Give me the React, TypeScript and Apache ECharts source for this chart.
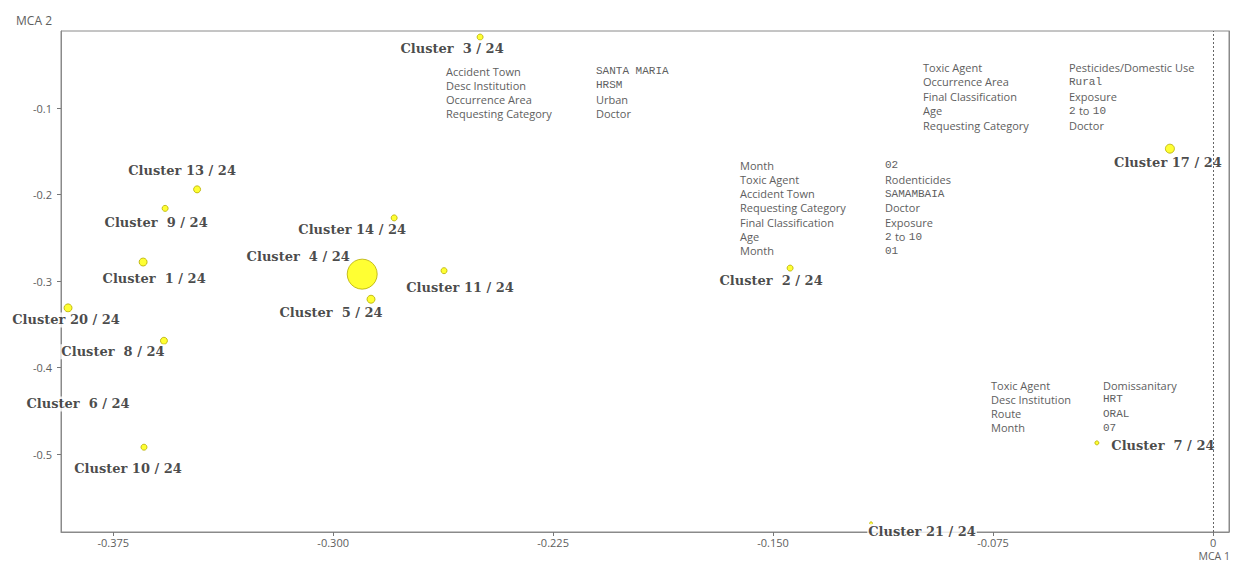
import React, { useEffect, useRef } from "react";
import * as echarts from "echarts";

// ---- data ----
const clusterNames = [
  "Cluster  1 / 24", "Cluster  2 / 24", "Cluster  3 / 24", "Cluster  4 / 24",
  "Cluster  5 / 24", "Cluster  6 / 24", "Cluster  7 / 24", "Cluster  8 / 24",
  "Cluster  9 / 24", "Cluster 10 / 24", "Cluster 11 / 24", "Cluster 13 / 24",
  "Cluster 14 / 24", "Cluster 17 / 24", "Cluster 20 / 24", "Cluster 21 / 24",
];
const mca1 = [
  -0.3648, -0.1442, -0.2499, -0.2901, -0.2871, -0.387, -0.0396, -0.3577,
  -0.3573, -0.3645, -0.2622, -0.3464, -0.2792, -0.0147, -0.3904, -0.1166,
];
const mca2 = [
  -0.278, -0.285, -0.018, -0.292, -0.321, -0.442, -0.487, -0.369,
  -0.216, -0.492, -0.288, -0.194, -0.227, -0.147, -0.331, -0.58,
];
const clusterWeight = [8, 6, 6, 30, 8, 0, 4, 7, 6, 6, 6, 7, 6, 9, 8, 3];

const xTicks = [-0.375, -0.3, -0.225, -0.15, -0.075, 0];
const yTicks = [-0.5, -0.4, -0.3, -0.2, -0.1];

const c3Keys = ["Accident Town", "Desc Institution", "Occurrence Area", "Requesting Category"];
const c3Values = ["SANTA MARIA", "HRSM", "Urban", "Doctor"];
const c2Keys = ["Month", "Toxic Agent", "Accident Town", "Requesting Category", "Final Classification", "Age", "Month"];
const c2Values = ["02", "Rodenticides", "SAMAMBAIA", "Doctor", "Exposure", "2 to 10", "01"];
const c17Keys = ["Toxic Agent", "Occurrence Area", "Final Classification", "Age", "Requesting Category"];
const c17Values = ["Pesticides/Domestic Use", "Rural", "Exposure", "2 to 10", "Doctor"];
const c7Keys = ["Toxic Agent", "Desc Institution", "Route", "Month"];
const c7Values = ["Domissanitary", "HRT", "ORAL", "07"];
const monoValues = ["SANTA MARIA", "HRSM", "SAMAMBAIA", "Rural", "HRT", "ORAL", "02", "01", "07"];

// ---- layout / style ----
const labelOffsets: number[][] = [
  [11, 16], [-19, 12], [-28, 11], [-64, -18], [-40, 13], [0, 0], [66, 3], [-51, 11],
  [-9, 14], [-16, 21], [16, 17], [-15, -19], [-42, 12], [-2, 14], [-2, 12], [51, 8],
];
const blocks = [
  { keys: c3Keys, values: c3Values, keyX: 446, valX: 596, y0: 71, gap: 14 },
  { keys: c2Keys, values: c2Values, keyX: 740, valX: 885, y0: 165, gap: 14.33 },
  { keys: c17Keys, values: c17Values, keyX: 923, valX: 1069, y0: 67, gap: 14.5 },
  { keys: c7Keys, values: c7Values, keyX: 991, valX: 1103, y0: 385, gap: 14.3 },
];

const SANS = "'Open Sans', 'Liberation Sans', sans-serif";
const MONO = "'Liberation Mono', 'DejaVu Sans Mono', monospace";
const GREY = "#5e5e5e";
const Y_MIN = -0.59;
const Y_MAX = -0.011;

function buildGraphics() {
  const els: any[] = [];
  blocks.forEach((b) => {
    b.keys.forEach((k, i) => {
      const y = b.y0 + i * b.gap;
      els.push({
        type: "text",
        silent: true,
        style: { text: k, x: b.keyX, y, font: `11px ${SANS}`, fill: GREY, verticalAlign: "middle" },
      });
      const v = b.values[i];
      if (v === "2 to 10") {
        els.push({
          type: "text",
          silent: true,
          style: {
            text: "{m|2} {s|to} {m|10}",
            x: b.valX,
            y,
            verticalAlign: "middle",
            rich: {
              m: { font: `11px ${MONO}`, fill: GREY },
              s: { font: `11px ${SANS}`, fill: GREY },
            },
          },
        });
      } else {
        const mono = monoValues.indexOf(v) >= 0;
        els.push({
          type: "text",
          silent: true,
          style: {
            text: v,
            x: b.valX,
            y,
            font: mono ? `11px ${MONO}` : `11px ${SANS}`,
            fill: GREY,
            verticalAlign: "middle",
          },
        });
      }
    });
  });
  els.push({
    type: "text",
    silent: true,
    style: {
      text: "MCA 1",
      x: 1230,
      y: 561,
      font: `10.5px ${SANS}`,
      fill: GREY,
      align: "right",
      verticalAlign: "bottom",
    },
  });
  return els;
}

export default function App() {
  const ref = useRef<HTMLDivElement>(null);

  useEffect(() => {
    if (!ref.current) return;
    const chart = echarts.init(ref.current, null, { renderer: "svg" });
    const data = clusterNames.map((n, i) => ({
      name: n,
      value: [mca1[i], mca2[i], clusterWeight[i]],
    }));

    chart.setOption({
      animation: false,
      backgroundColor: "#fff",
      grid: {
        left: 61,
        top: 31,
        right: 4,
        bottom: 31,
        show: true,
        borderColor: "#8a8a8a",
        borderWidth: 1,
        containLabel: false,
        outerBoundsMode: "none",
      },
      xAxis: {
        type: "value",
        min: -0.3928,
        max: 0.00545,
        splitLine: { show: false },
        axisLine: { show: true, onZero: false, lineStyle: { color: "#8a8a8a", width: 1 } },
        axisTick: { show: true, length: 4, customValues: xTicks, lineStyle: { color: "#777" } },
        axisLabel: {
          customValues: xTicks,
          margin: 5,
          color: GREY,
          fontFamily: SANS,
          fontSize: 11,
          formatter: (v: number) => (Math.abs(v) < 1e-9 ? "0" : v.toFixed(3)),
        },
      },
      yAxis: [
        {
          type: "value",
          min: Y_MIN,
          max: Y_MAX,
          name: "MCA 2",
          nameLocation: "end",
          nameGap: 5,
          nameTextStyle: {
            color: GREY,
            fontFamily: SANS,
            fontSize: 12,
            align: "right",
            padding: [0, 9, 0, 0],
          },
          splitLine: { show: false },
          axisLine: { show: true, onZero: false, lineStyle: { color: "#8a8a8a", width: 1 } },
          axisTick: { show: true, length: 4, customValues: yTicks, lineStyle: { color: "#777" } },
          axisLabel: {
            customValues: yTicks,
            margin: 9,
            color: GREY,
            fontFamily: SANS,
            fontSize: 11,
            formatter: (v: number) => v.toFixed(1),
          },
        },
        {
          type: "value",
          position: "right",
          min: Y_MIN,
          max: Y_MAX,
          splitLine: { show: false },
          axisLine: { show: true, onZero: false, lineStyle: { color: "#8a8a8a", width: 1 } },
          axisTick: { show: false },
          axisLabel: { show: false },
        },
      ],
      series: [
        {
          type: "scatter",
          data,
          symbol: "circle",
          symbolSize: (val: number[]) => val[2],
          itemStyle: { color: "#ffff00", borderColor: "#b5ac00", borderWidth: 1 },
          label: {
            show: true,
            position: "inside",
            formatter: (p: any) => p.name,
            fontFamily: "'DejaVu Serif', 'Liberation Serif', serif",
            fontWeight: "bold",
            fontSize: 13,
            color: "#1a1a1a",
            backgroundColor: "#fff",
            padding: [1, 1],
            align: "center",
            verticalAlign: "middle",
          },
          labelLayout: (params: any) => ({
            dx: labelOffsets[params.dataIndex][0],
            dy: labelOffsets[params.dataIndex][1],
            hideOverlap: false,
          }),
          emphasis: { disabled: true },
          markLine: {
            silent: true,
            symbol: "none",
            label: { show: false },
            lineStyle: { color: "#666", type: [2, 2], width: 1 },
            data: [{ xAxis: 0 }],
          },
        },
      ],
      graphic: buildGraphics(),
    });

    return () => chart.dispose();
  }, []);

  return (
    <div
      ref={ref}
      style={{ position: "absolute", left: 0, top: 0, width: 1233, height: 563 }}
    />
  );
}
